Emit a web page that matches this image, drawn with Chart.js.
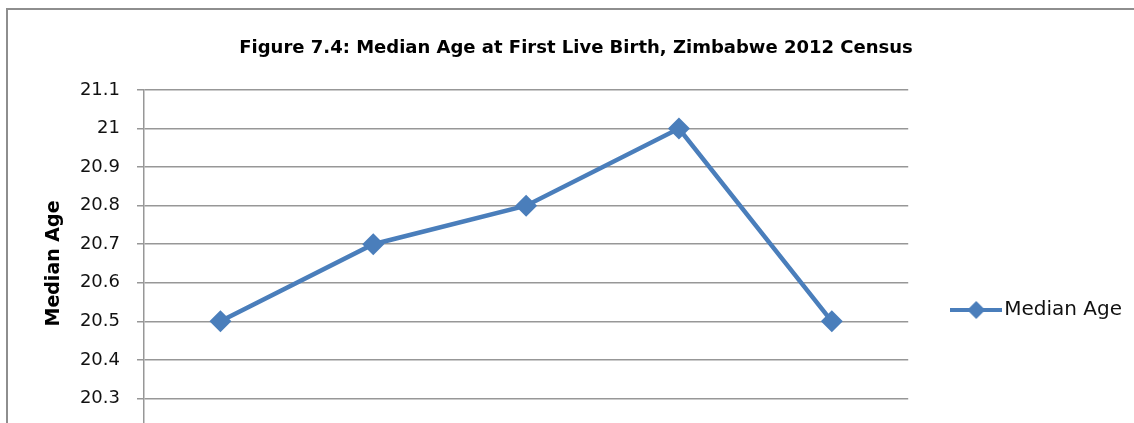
<!DOCTYPE html>
<html>
<head>
<meta charset="utf-8">
<script src="https://cdn.jsdelivr.net/npm/chart.js@4.4.1/dist/chart.umd.min.js"></script>
<style>
  html, body { margin: 0; padding: 0; background: #fff; overflow: hidden; }
  .edge { position: absolute; background: #8e8e8e; }
  #edge-top { left: 6px; top: 8px; width: 1128px; height: 2px; }
  #edge-left { left: 6px; top: 8px; width: 2px; height: 415px; }
  #chart { position: absolute; left: 0; top: 0; }
</style>
</head>
<body>
<div class="edge" id="edge-top"></div>
<div class="edge" id="edge-left"></div>
<canvas id="chart" width="1134" height="620"></canvas>
<script>
// Figure 7.4 data (x labels are cut off in the source picture)
const categories = ['25-29', '30-34', '35-39', '40-44', '45-49'];
const medianAge = [20.5, 20.7, 20.8, 21.0, 20.5];
const yMin = 20.2;
const yMax = 21.1;
const yStep = 0.1;

const blue = '#4A7EBB';
const grey = '#979797';

// legend swatch: line with a diamond in the middle
const swatch = document.createElement('canvas');
swatch.width = 52;
swatch.height = 22;
const sctx = swatch.getContext('2d');
sctx.strokeStyle = blue;
sctx.lineWidth = 4;
sctx.beginPath();
sctx.moveTo(0, 11);
sctx.lineTo(52, 11);
sctx.stroke();
sctx.fillStyle = blue;
sctx.beginPath();
sctx.moveTo(26, 2);
sctx.lineTo(35, 11);
sctx.lineTo(26, 20);
sctx.lineTo(17, 11);
sctx.closePath();
sctx.fill();

const chart = new Chart(document.getElementById('chart'), {
    type: 'line',
    data: {
        labels: categories,
        datasets: [{
            label: 'Median Age',
            data: medianAge,
            borderColor: blue,
            backgroundColor: blue,
            borderWidth: 4.5,
            pointStyle: 'rectRot',
            pointRadius: 11,
            pointHoverRadius: 11,
            pointBorderWidth: 0,
            tension: 0
        }]
    },
    options: {
        responsive: false,
        animation: false,
        layout: { padding: { top: 10, left: 20, right: 2, bottom: 10 } },
        plugins: {
            title: {
                display: true,
                text: 'Figure 7.4: Median Age at First Live Birth, Zimbabwe 2012 Census',
                color: '#000',
                font: { family: 'DejaVu Sans', size: 18, weight: 'bold', lineHeight: 1.2 },
                padding: { top: 28, bottom: 30.4 }
            },
            legend: {
                position: 'right',
                labels: {
                    usePointStyle: true,
                    pointStyle: swatch,
                    pointStyleWidth: 36,
                    padding: 50,
                    color: '#111',
                    font: { family: 'DejaVu Sans', size: 20 }
                }
            },
            tooltip: { enabled: false }
        },
        scales: {
            x: {
                offset: true,
                grid: { display: false },
                border: { color: grey, width: 1.5 },
                ticks: { color: '#111', font: { family: 'DejaVu Sans', size: 18 } },
                afterFit: (scale) => { scale.height = 173; }
            },
            y: {
                min: yMin,
                max: yMax,
                ticks: {
                    stepSize: yStep,
                    padding: 17,
                    color: '#111',
                    font: { family: 'DejaVu Sans', size: 18 },
                    callback: (v) => String(Number(v.toFixed(1)))
                },
                grid: { color: grey, lineWidth: 1.5, tickLength: 7 },
                border: { color: grey, width: 1.5 },
                title: {
                    display: true,
                    text: 'Median Age',
                    color: '#000',
                    font: { family: 'DejaVu Sans', size: 19, weight: 'bold', lineHeight: 1.2 },
                    padding: { top: 23, bottom: 0 }
                },
                afterFit: (scale) => { scale.width = 124; }
            }
        }
    }
});
</script>
</body>
</html>
